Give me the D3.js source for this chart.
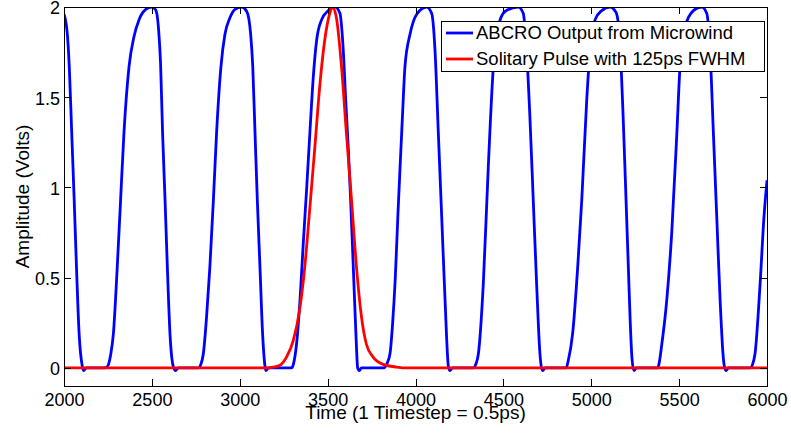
<!DOCTYPE html>
<html>
<head>
<meta charset="utf-8">
<script src="https://cdn.jsdelivr.net/npm/d3@7"></script>
<style>
  html, body { margin: 0; padding: 0; background: #fff; }
  svg { display: block; font-family: "Liberation Sans", Arial, Helvetica, sans-serif; }
</style>
</head>
<body>
<svg id="chart" width="791" height="439"></svg>
<script>
"use strict";

// ABCRO output (time step, volts)
const abcroT = [
  2000, 2018, 2030, 2044, 2058, 2071, 2086, 2104, 2112, 2126, 2230,
  2247, 2265, 2281, 2303, 2322, 2341, 2370, 2398, 2427, 2465, 2499, 2522, 2537, 2550, 2561, 2575, 2588, 2603, 2622, 2635, 2650, 2764,
  2779, 2793, 2811, 2830, 2850, 2868, 2893, 2916, 2944, 2973, 3011, 3040, 3062, 3074, 3087, 3100, 3115, 3130, 3144, 3149, 3163, 3296,
  3305, 3325, 3343, 3362, 3381, 3400, 3419, 3438, 3466, 3504, 3542, 3570, 3589, 3603, 3618, 3631, 3646, 3661, 3671, 3680, 3693, 3817,
  3836, 3855, 3870, 3885, 3900, 3914, 3927, 3940, 3969, 4007, 4063, 4092, 4111, 4130, 4149, 4168, 4187, 4196, 4210, 4329,
  4343, 4358, 4386, 4414, 4443, 4471, 4509, 4585, 4613, 4632, 4651, 4670, 4689, 4708, 4716, 4724, 4738, 4857,
  4869, 4894, 4923, 4946, 4974, 4993, 5022, 5060, 5107, 5141, 5155, 5168, 5183, 5198, 5211, 5222, 5232, 5243, 5256, 5378,
  5385, 5400, 5430, 5458, 5487, 5505, 5534, 5581, 5629, 5657, 5676, 5695, 5714, 5733, 5752, 5758, 5767, 5780, 5904,
  5918, 5932, 5961, 5983, 6000
];
const abcroV = [
  1.96, 1.86, 1.67, 1.30, 0.93, 0.56, 0.19, 0.01, -0.015, 0, 0,
  0.007, 0.07, 0.19, 0.56, 0.93, 1.30, 1.67, 1.835, 1.93, 1.987, 2.0, 1.983, 1.89, 1.67, 1.30, 0.93, 0.56, 0.19, 0.007, -0.015, 0, 0,
  0.02, 0.08, 0.28, 0.56, 0.93, 1.30, 1.67, 1.85, 1.94, 1.987, 2.0, 1.975, 1.85, 1.67, 1.30, 0.93, 0.56, 0.19, 0.007, -0.015, 0, 0,
  0.02, 0.15, 0.38, 0.70, 1.0, 1.32, 1.62, 1.82, 1.93, 1.98, 2.0, 1.965, 1.76, 1.48, 1.21, 0.93, 0.56, 0.19, 0, -0.015, 0, 0,
  0.02, 0.08, 0.25, 0.5, 0.85, 1.15, 1.42, 1.67, 1.85, 1.96, 2.0, 1.965, 1.76, 1.30, 0.84, 0.38, 0.01, -0.015, 0, 0,
  0.02, 0.08, 0.47, 1.11, 1.67, 1.89, 1.975, 2.0, 1.965, 1.76, 1.39, 0.93, 0.47, 0.08, 0.005, -0.015, 0, 0,
  0.04, 0.19, 0.56, 0.93, 1.48, 1.76, 1.93, 1.98, 2.0, 1.97, 1.90, 1.72, 1.35, 0.93, 0.56, 0.25, 0.05, -0.015, 0, 0,
  0.02, 0.12, 0.38, 0.75, 1.30, 1.67, 1.89, 1.98, 2.0, 1.965, 1.76, 1.30, 0.84, 0.38, 0.05, 0.005, -0.015, 0, 0,
  0.02, 0.08, 0.47, 0.84, 1.04
];

// solitary pulse, 125ps FWHM
const pulseT = [2000, 3150, 3190, 3229, 3266, 3304, 3342, 3370, 3399, 3427, 3456, 3484, 3512, 3527,
                3550, 3579, 3607, 3636, 3664, 3693, 3721, 3759, 3816, 3892, 3960, 6000];
const pulseV = [0, 0, 0.005, 0.015, 0.06, 0.15, 0.33, 0.56, 0.89, 1.22, 1.57, 1.82, 1.965, 2.0,
                1.94, 1.67, 1.30, 0.93, 0.56, 0.28, 0.13, 0.06, 0.02, 0.005, 0, 0];

const xTicks = [2000, 2500, 3000, 3500, 4000, 4500, 5000, 5500, 6000];
const yTicks = [0, 0.5, 1, 1.5, 2];
const seriesNames = ["ABCRO Output from Microwind", "Solitary Pulse with 125ps FWHM"];
const seriesColors = ["#0000ff", "#ff0000"];

const box = {l: 64, r: 767, t: 7, b: 386};
const svg = d3.select("#chart");

let x = d3.scaleLinear().domain([2000, 6000]).range([box.l, box.r]);
let y = d3.scaleLinear().domain([-0.1, 2]).range([box.b, box.t]);

// clip so the lines stay in the axes
svg.append("defs").append("clipPath").attr("id", "clip")
  .append("rect").attr("x", box.l).attr("y", box.t)
  .attr("width", box.r - box.l).attr("height", box.b - box.t);

let line = d3.line()
  .x(d => x(d[0]))
  .y(d => y(d[1]))
  .curve(d3.curveMonotoneX);

let plot = svg.append("g").attr("clip-path", "url(#clip)");
let series = [d3.zip(abcroT, abcroV), d3.zip(pulseT, pulseV)];
series.forEach((pts, i) => {
  plot.append("path")
    .datum(pts)
    .attr("fill", "none")
    .attr("stroke", seriesColors[i])
    .attr("stroke-width", 2.8)
    .attr("stroke-linejoin", "round")
    .attr("d", line);
});

// axes, MATLAB style: ticks inward on every side
let tick = 7;

svg.append("g").attr("transform", `translate(0,${box.b})`)
  .call(d3.axisBottom(x).tickValues(xTicks).tickFormat(d3.format("d")).tickSizeInner(-tick).tickSizeOuter(0).tickPadding(7))
  .call(g => g.selectAll("text").attr("font-size", 18).attr("fill", "#000"));
svg.append("g").attr("transform", `translate(0,${box.t})`)
  .call(d3.axisTop(x).tickValues(xTicks).tickSizeInner(-tick).tickSizeOuter(0).tickFormat(""));
svg.append("g").attr("transform", `translate(${box.l},0)`)
  .call(d3.axisLeft(y).tickValues(yTicks).tickFormat(d => String(d)).tickSizeInner(-tick).tickSizeOuter(0).tickPadding(4))
  .call(g => g.selectAll("text").attr("font-size", 18).attr("fill", "#000").attr("dy", "0.38em"));
svg.append("g").attr("transform", `translate(${box.r},0)`)
  .call(d3.axisRight(y).tickValues(yTicks).tickSizeInner(-tick).tickSizeOuter(0).tickFormat(""));

svg.selectAll(".domain").remove();
svg.selectAll(".tick line").attr("stroke", "#000").attr("shape-rendering", "crispEdges");

svg.append("rect")
  .attr("x", box.l).attr("y", box.t)
  .attr("width", box.r - box.l).attr("height", box.b - box.t)
  .attr("fill", "none").attr("stroke", "#000").attr("stroke-width", 1)
  .attr("shape-rendering", "crispEdges");

// axis titles
svg.append("text")
  .attr("x", (box.l + box.r) / 2).attr("y", 419)
  .attr("text-anchor", "middle").attr("font-size", 19)
  .text("Time (1 Timestep = 0.5ps)");
svg.append("text")
  .attr("transform", `translate(29,${(box.t + box.b) / 2}) rotate(-90)`)
  .attr("text-anchor", "middle").attr("font-size", 19)
  .text("Amplitude (Volts)");

// legend
let lg = svg.append("g").attr("transform", "translate(441,21)");
lg.append("rect").attr("width", 323).attr("height", 50)
  .attr("fill", "#fff").attr("stroke", "#000").attr("shape-rendering", "crispEdges");
seriesNames.forEach((name, i) => {
  let cy = 12 + i * 26;
  lg.append("line").attr("x1", 5).attr("x2", 32).attr("y1", cy).attr("y2", cy)
    .attr("stroke", seriesColors[i]).attr("stroke-width", 2.8);
  lg.append("text").attr("x", 35).attr("y", cy).attr("dy", "0.35em")
    .attr("font-size", 18.5).text(name);
});
</script>
</body>
</html>
